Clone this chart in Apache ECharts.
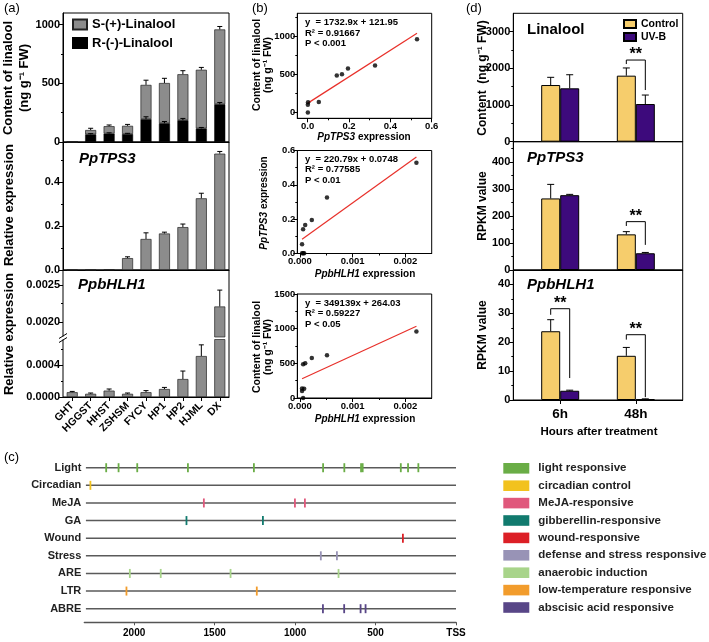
<!DOCTYPE html>
<html>
<head>
<meta charset="utf-8">
<script src="https://cdn.jsdelivr.net/npm/echarts@6.0.0/dist/echarts.min.js"></script>
<style>html,body{margin:0;padding:0;background:#fff;}#chart{width:709px;height:642px;}</style>
</head>
<body>
<div id="chart"></div>
<script>
// ================= DATA =================
// panel (a)
const cultivars = ['GHT','HGGST','HHST','ZSHSM','FYCY','HP1','HP2','HJML','DX'];
const rLinalool = [0, 65, 72, 68, 195, 160, 186, 116, 322];
const sLinalool = [0, 37, 63, 70, 292, 343, 392, 500, 638];
const totalLinErr = [0, 15, 10, 12, 40, 40, 30, 20, 25];
const rLinErr = [0, 6, 6, 6, 20, 15, 15, 8, 15];
const tps3Expr = [0.001, 0.001, 0.002, 0.054, 0.141, 0.166, 0.195, 0.326, 0.529];
const tps3Err = [0, 0, 0, 0.006, 0.028, 0.006, 0.014, 0.023, 0.010];
const bhlhExpr = [0.00006, 0.00004, 0.00008, 0.00004, 0.00006, 0.00010, 0.000225, 0.000513, 0.00221];
const bhlhErr = [0.00001, 0.00001, 0.00002, 0.00001, 0.00002, 0.00002, 0.00010, 0.00014, 0.00022];
// panel (b) regressions
const regSlope = [1732.9, 220.79, 349139];
const regIntercept = [121.95, 0.0748, 264.03];
const regText = [
  ['y  = 1732.9x + 121.95', 'R\u00b2 = 0.91667', 'P < 0.001'],
  ['y  = 220.79x + 0.0748', 'R\u00b2 = 0.77585', 'P < 0.01'],
  ['y  = 349139x + 264.03', 'R\u00b2 = 0.59227', 'P < 0.05']
];
// panel (d)
const timeLabels = ['6h', '48h'];
const linCtrl = [1545, 1800], linCtrlErr = [210, 210];
const linUV = [1455, 1027], linUVErr = [370, 245];
const tpsCtrl = [265, 132], tpsCtrlErr = [52, 10];
const tpsUV = [277, 62], tpsUVErr = [3, 3];
const bhCtrl = [23.8, 15.3], bhCtrlErr = [4.0, 2.9];
const bhUV = [3.2, 0.3], bhUVErr = [0.2, 0.1];
// significance brackets: [timeIndex, topY, leftLegEnd, rightLegEnd]
const linSig = [[1, 2226, 2117, 1408]];
const tpsSig = [[1, 179, 163, 93]];
const bhSig = [[0, 31.6, 29.5, 7.6], [1, 22.6, 20.9, 1.0]];
// panel (c)
const promoterRows = ['Light','Circadian','MeJA','GA','Wound','Stress','ARE','LTR','ABRE'];
const elementTypes = ['light responsive','circadian control','MeJA-responsive','gibberellin-responsive','wound-responsive','defense and stress responsive','anaerobic induction','low-temperature responsive','abscisic acid responsive'];
const elementColors = ['#6aad46','#f2c21e','#e0587c','#117a6e','#dc1f26','#9893b6','#a8d48a','#f29c2c','#584687'];
const lightPos = [2174, 2097, 1981, 1666, 1256, 826, 694, 590, 580, 343, 298, 234];
const circadianPos = [2272];
const mejaPos = [1567, 1001, 939];
const gaPos = [1675, 1200];
const woundPos = [330];
const stressPos = [840, 740];
const arePos = [2027, 1835, 1401, 730];
const ltrPos = [2048, 1238];
const abrePos = [827, 695, 593, 562];
const promoterStart = 2300, tssPos = 0;
const promoterTicks = [2000, 1500, 1000, 500, 0];

// ================= BUILD =================
const FF = "'Liberation Sans', Arial, Helvetica, sans-serif";
function merge(a, b) {
  const o = Object.assign({}, a);
  for (const k in b) {
    const v = b[k];
    if (v && typeof v === 'object' && !Array.isArray(v) && o[k] && typeof o[k] === 'object' && !Array.isArray(o[k])) o[k] = merge(o[k], v);
    else o[k] = v;
  }
  return o;
}
const grids = [], xAxes = [], yAxes = [], series = [], graphics = [];
const frame = {show: true, borderColor: '#000', borderWidth: 1, backgroundColor: 'rgba(0,0,0,0)'};
function addGrid(r, framed) { grids.push(Object.assign({left: r[0], top: r[1], width: r[2], height: r[3]}, framed ? frame : {show: false})); return grids.length - 1; }
function addX(o) { xAxes.push(o); return xAxes.length - 1; }
function addY(o) { yAxes.push(o); return yAxes.length - 1; }
const lbl = (size) => ({color: '#000', fontFamily: FF, fontWeight: 'bold', fontSize: size});

function valueAxis(dim, grid, min, max, ticks, fmt, size, extra) {
  return merge({gridIndex: grid, type: 'value', min, max, position: dim === 'x' ? 'bottom' : 'left',
    axisLine: {show: true, onZero: false, lineStyle: {color: '#000', width: 1}},
    axisTick: {show: true, inside: false, length: 4, customValues: ticks, lineStyle: {color: '#000', width: 1}},
    axisLabel: Object.assign({show: true, customValues: ticks, margin: 3, formatter: fmt}, lbl(size)),
    splitLine: {show: false}}, extra || {});
}
function minorAxis(dim, grid, min, max, ticks) {
  return {gridIndex: grid, type: 'value', min, max, position: dim === 'x' ? 'bottom' : 'left',
    axisLine: {show: false, onZero: false}, axisLabel: {show: false}, splitLine: {show: false},
    axisTick: {show: true, inside: false, length: 2, customValues: ticks, lineStyle: {color: '#000', width: 1}}};
}
function errRender(offsetPx, cap) {
  return function (params, api) {
    const x = api.value(0), y = api.value(1), e = api.value(2);
    if (!(e > 0)) return null;
    const p0 = api.coord([x, y]), p1 = api.coord([x, y + e]);
    const cx = p0[0] + offsetPx;
    return {type: 'group', children: [
      {type: 'line', shape: {x1: cx, y1: p0[1], x2: cx, y2: p1[1]}, style: {stroke: '#000', lineWidth: 1}},
      {type: 'line', shape: {x1: cx - cap / 2, y1: p1[1], x2: cx + cap / 2, y2: p1[1]}, style: {stroke: '#000', lineWidth: 1}}
    ]};
  };
}
function errSeries(xi, yi, data, offsetPx, cap) {
  return {type: 'custom', xAxisIndex: xi, yAxisIndex: yi, data, renderItem: errRender(offsetPx, cap), z: 5, silent: true, encode: {x: 0, y: 1}};
}
function txt(x, y, text, o) {
  o = o || {};
  const st = {text, x: 0, y: 0, align: o.align || 'left', verticalAlign: o.va || 'middle', fontFamily: FF,
    fontSize: o.size || 12, fontWeight: o.weight || 'bold', fontStyle: o.fstyle || 'normal', fill: o.color || '#000'};
  if (o.rich) st.rich = o.rich;
  return {type: 'text', x, y, rotation: o.rot || 0, style: st, silent: true};
}
const italicRich = (size, weight) => ({i: {fontStyle: 'italic', fontWeight: weight || 'bold', fontSize: size, fontFamily: FF, fill: '#000'}});

// ---------- panel (a) ----------
const gA1 = addGrid([63, 13, 166, 129], true);
const gA2 = addGrid([63, 142, 166, 128], true);
const gA3 = addGrid([63, 270, 166, 127], true);
const gA3u = addGrid([63, 270, 166, 67], false);
const gA3l = addGrid([63, 339.5, 166, 57.5], false);
function catAxis(grid, extra) {
  return merge({gridIndex: grid, type: 'category', data: cultivars, position: 'bottom',
    axisLine: {show: true, onZero: false, lineStyle: {color: '#000'}}, axisTick: {show: false}, axisLabel: {show: false}, splitLine: {show: false}}, extra || {});
}
const xA1 = addX(catAxis(gA1)), xA2 = addX(catAxis(gA2));
addX(catAxis(gA3, {show: false}));
const xA3u = addX(catAxis(gA3u, {show: false}));
const xA3l = addX(catAxis(gA3l, {axisTick: {show: true, alignWithLabel: true, length: 4, lineStyle: {color: '#000'}},
  axisLabel: Object.assign({show: true, rotate: 45, margin: 7, interval: 0}, lbl(10.5))}));
const yA1 = addY(valueAxis('y', gA1, 0, 1100, [0, 500, 1000], v => String(v), 11));
addY(minorAxis('y', gA1, 0, 1100, [250, 750]));
const yA2 = addY(valueAxis('y', gA2, 0, 0.582, [0, 0.2, 0.4], v => v.toFixed(1), 11));
addY(minorAxis('y', gA2, 0, 0.582, [0.1, 0.3, 0.5]));
addY({gridIndex: gA3, type: 'value', show: false, min: 0, max: 1});
const upMin = 0.0018, upMax = 0.0027, lowMax = 0.00072;
const yA3u = addY(valueAxis('y', gA3u, upMin, upMax, [0.002, 0.0025], v => v.toFixed(4), 11, {axisLine: {show: false}}));
addY(minorAxis('y', gA3u, upMin, upMax, [0.00225]));
const yA3l = addY(valueAxis('y', gA3l, 0, lowMax, [0, 0.0004], v => v.toFixed(4), 11, {axisLine: {show: false}}));
addY(minorAxis('y', gA3l, 0, lowMax, [0.0002, 0.0006]));

const grayBar = {color: '#8c8c8c', borderColor: '#222', borderWidth: 0.7};
series.push({type: 'bar', name: 'R-(-)-Linalool', xAxisIndex: xA1, yAxisIndex: yA1, stack: 'lin', data: rLinalool, barWidth: 11, itemStyle: {color: '#000', borderColor: '#000', borderWidth: 0.5}});
series.push({type: 'bar', name: 'S-(+)-Linalool', xAxisIndex: xA1, yAxisIndex: yA1, stack: 'lin', data: sLinalool, barWidth: 11, itemStyle: grayBar});
series.push(errSeries(xA1, yA1, cultivars.map((c, i) => [i, rLinalool[i] + sLinalool[i], totalLinErr[i]]), 0, 5));
series.push(errSeries(xA1, yA1, cultivars.map((c, i) => [i, rLinalool[i], rLinErr[i]]), 0, 5));
series.push({type: 'bar', name: 'PpTPS3 rel', xAxisIndex: xA2, yAxisIndex: yA2, data: tps3Expr, barWidth: 11, itemStyle: grayBar});
series.push(errSeries(xA2, yA2, cultivars.map((c, i) => [i, tps3Expr[i], tps3Err[i]]), 0, 5));
series.push({type: 'bar', name: 'bHLH up', xAxisIndex: xA3u, yAxisIndex: yA3u, data: bhlhExpr.map(v => v >= upMin ? v : '-'), barWidth: 11, itemStyle: grayBar, clip: true});
series.push(errSeries(xA3u, yA3u, cultivars.map((c, i) => [i, bhlhExpr[i], bhlhErr[i]]).filter(d => d[1] >= upMin), 0, 5));
series.push({type: 'bar', name: 'bHLH low', xAxisIndex: xA3l, yAxisIndex: yA3l, data: bhlhExpr, barWidth: 11, itemStyle: grayBar, clip: true});
series.push(errSeries(xA3l, yA3l, cultivars.map((c, i) => [i, bhlhExpr[i], bhlhErr[i]]).filter(d => d[1] + d[2] <= lowMax), 0, 5));

graphics.push(txt(4, 8, '(a)', {weight: 'normal', size: 13}));
graphics.push(txt(8, 78, 'Content of linalool', {rot: Math.PI / 2, align: 'center', size: 13}));
graphics.push(txt(24, 78, '(ng g\u207b\u00b9 FW)', {rot: Math.PI / 2, align: 'center', size: 13}));
graphics.push(txt(9, 205, 'Relative expression', {rot: Math.PI / 2, align: 'center', size: 13}));
graphics.push(txt(9, 334, 'Relative expression', {rot: Math.PI / 2, align: 'center', size: 13}));
graphics.push(txt(79, 159, 'PpTPS3', {size: 15, fstyle: 'italic'}));
graphics.push(txt(78, 285, 'PpbHLH1', {size: 15, fstyle: 'italic'}));
// axis break marks
graphics.push({type: 'rect', shape: {x: 58, y: 336.5, width: 10, height: 3}, style: {fill: '#fff'}, silent: true, z: 50});
graphics.push({type: 'line', shape: {x1: 59, y1: 338.5, x2: 67, y2: 333.5}, style: {stroke: '#000', lineWidth: 1}, silent: true, z: 51});
graphics.push({type: 'line', shape: {x1: 59, y1: 342.5, x2: 67, y2: 337.5}, style: {stroke: '#000', lineWidth: 1}, silent: true, z: 51});

// ---------- panel (b) ----------
const bX = [[-0.05, 0.6, [0, 0.2, 0.4, 0.6], [0.1, 0.3, 0.5], 1], [-0.00005, 0.0025, [0, 0.001, 0.002], [0.0005, 0.0015], 3], [-0.00005, 0.0025, [0, 0.001, 0.002], [0.0005, 0.0015], 3]];
const bY = [[-75, 1300, [0, 500, 1000], [250, 750, 1250], 0], [0, 0.6, [0, 0.2, 0.4, 0.6], [0.1, 0.3, 0.5], 1], [0, 1500, [0, 500, 1000, 1500], [250, 750, 1250], 0]];
const bRects = [[297.3, 13.3, 134.4, 105], [297.3, 150.5, 134.4, 103], [297.3, 294, 134.4, 104]];
const totalLin = cultivars.map((c, i) => rLinalool[i] + sLinalool[i]);
const bPoints = [
  cultivars.map((c, i) => [tps3Expr[i], totalLin[i]]),
  cultivars.map((c, i) => [bhlhExpr[i], tps3Expr[i]]),
  cultivars.map((c, i) => [bhlhExpr[i], totalLin[i]])
];
const bTextTop = [22.7, 159, 303.3];
for (let k = 0; k < 3; k++) {
  const g = addGrid(bRects[k], true);
  const bx = bX[k], by = bY[k];
  const xi = addX(valueAxis('x', g, bx[0], bx[1], bx[2], v => v.toFixed(bx[4]), 9.5, {axisLabel: {margin: 3}}));
  addX(minorAxis('x', g, bx[0], bx[1], bx[3]));
  const yi = addY(valueAxis('y', g, by[0], by[1], by[2], v => v.toFixed(by[4]), 9.5, {axisLabel: {margin: 2}}));
  addY(minorAxis('y', g, by[0], by[1], by[3]));
  const xs = bPoints[k].map(p => p[0]);
  const x0 = Math.min.apply(null, xs), x1 = Math.max.apply(null, xs);
  series.push({type: 'line', xAxisIndex: xi, yAxisIndex: yi, data: [[x0, regSlope[k] * x0 + regIntercept[k]], [x1, regSlope[k] * x1 + regIntercept[k]]],
    symbol: 'none', lineStyle: {color: '#e8302a', width: 1.2}, z: 3, silent: true});
  series.push({type: 'scatter', xAxisIndex: xi, yAxisIndex: yi, data: bPoints[k], symbolSize: 4.5, itemStyle: {color: '#000'}, z: 4, silent: true});
  regText[k].forEach((t, j) => graphics.push(txt(305, bTextTop[k] + j * 10.5, t, {size: 9.5})));
}
graphics.push(txt(252, 8, '(b)', {weight: 'normal', size: 13}));
graphics.push(txt(257, 65, 'Content of linalool', {rot: Math.PI / 2, align: 'center', size: 10.5}));
graphics.push(txt(268, 65, '(ng g\u207b\u00b9 FW)', {rot: Math.PI / 2, align: 'center', size: 10.5}));
graphics.push(txt(364, 137, '{i|PpTPS3} expression', {align: 'center', size: 10, rich: italicRich(10)}));
graphics.push(txt(264, 203, '{i|PpTPS3} expression', {rot: Math.PI / 2, align: 'center', size: 10, rich: italicRich(10)}));
graphics.push(txt(365, 274, '{i|PpbHLH1} expression', {align: 'center', size: 10, rich: italicRich(10)}));
graphics.push(txt(257, 347, 'Content of linalool', {rot: Math.PI / 2, align: 'center', size: 10.5}));
graphics.push(txt(268, 347, '(ng g\u207b\u00b9 FW)', {rot: Math.PI / 2, align: 'center', size: 10.5}));
graphics.push(txt(365, 419, '{i|PpbHLH1} expression', {align: 'center', size: 10, rich: italicRich(10)}));

// ---------- panel (d) ----------
const dRects = [[513.3, 13.3, 169.4, 128.4], [513.3, 141.7, 169.4, 128.3], [513.3, 270, 169.4, 130]];
const dY = [[0, 3500, [0, 1000, 2000, 3000], [500, 1500, 2500]], [0, 475, [0, 100, 200, 300, 400], [50, 150, 250, 350, 450]], [0, 45, [0, 10, 20, 30, 40], [5, 15, 25, 35]]];
const dCtrl = [linCtrl, tpsCtrl, bhCtrl], dCtrlE = [linCtrlErr, tpsCtrlErr, bhCtrlErr];
const dUV = [linUV, tpsUV, bhUV], dUVE = [linUVErr, tpsUVErr, bhUVErr];
const dSig = [linSig, tpsSig, bhSig];
const BW = 19;
for (let k = 0; k < 3; k++) {
  const g = addGrid(dRects[k], true);
  const xi = addX(k < 2
    ? {gridIndex: g, type: 'value', min: -0.62, max: 1.62, position: 'bottom', axisLine: {show: true, onZero: false, lineStyle: {color: '#000'}}, axisTick: {show: false}, axisLabel: {show: false}, splitLine: {show: false}}
    : valueAxis('x', g, -0.62, 1.62, [0, 1], v => timeLabels[Math.round(v)], 13.5, {axisLabel: {margin: 7}}));
  const yi = addY(valueAxis('y', g, dY[k][0], dY[k][1], dY[k][2], v => String(v), 11));
  addY(minorAxis('y', g, dY[k][0], dY[k][1], dY[k][3]));
  series.push({type: 'bar', name: 'Control', xAxisIndex: xi, yAxisIndex: yi, data: dCtrl[k].map((v, i) => [i, v]), barWidth: BW, barGap: '0%', itemStyle: {color: '#f6cd6c', borderColor: '#000', borderWidth: 1}});
  series.push({type: 'bar', name: 'UV-B', xAxisIndex: xi, yAxisIndex: yi, data: dUV[k].map((v, i) => [i, v]), barWidth: BW, barGap: '0%', itemStyle: {color: '#3d0a7c', borderColor: '#000', borderWidth: 1}});
  series.push(errSeries(xi, yi, dCtrl[k].map((v, i) => [i, v, dCtrlE[k][i]]), -BW / 2, 7));
  series.push(errSeries(xi, yi, dUV[k].map((v, i) => [i, v, dUVE[k][i]]), BW / 2, 7));
  series.push({type: 'custom', xAxisIndex: xi, yAxisIndex: yi, data: dSig[k], silent: true, z: 6, encode: {x: 0, y: 1},
    renderItem: (p, api) => {
      const t = api.coord([api.value(0), api.value(1)]);
      const l = api.coord([api.value(0), api.value(2)]);
      const r = api.coord([api.value(0), api.value(3)]);
      const xl = t[0] - BW / 2, xr = t[0] + BW / 2;
      return {type: 'group', children: [
        {type: 'polyline', shape: {points: [[xl, l[1]], [xl, t[1]], [xr, t[1]], [xr, r[1]]]}, style: {stroke: '#000', lineWidth: 1, fill: null}},
        {type: 'text', x: t[0], y: t[1] - 5, style: {text: '**', align: 'center', verticalAlign: 'middle', fontFamily: FF, fontWeight: 'bold', fontSize: 16, fill: '#000'}}
      ]};
    }});
}
graphics.push(txt(466, 8, '(d)', {weight: 'normal', size: 13}));
graphics.push(txt(527, 30, 'Linalool', {size: 15}));
graphics.push(txt(527, 158, 'PpTPS3', {size: 15, fstyle: 'italic'}));
graphics.push(txt(527, 285, 'PpbHLH1', {size: 15, fstyle: 'italic'}));
graphics.push(txt(483, 78, 'Content  (ng g\u207b\u00b9 FW)', {rot: Math.PI / 2, align: 'center', size: 12}));
graphics.push(txt(483, 206, 'RPKM value', {rot: Math.PI / 2, align: 'center', size: 12}));
graphics.push(txt(483, 335, 'RPKM value', {rot: Math.PI / 2, align: 'center', size: 12}));
graphics.push(txt(599, 432, 'Hours after treatment', {align: 'center', size: 11.5}));

// ---------- panel (c) ----------
const gC = addGrid([84.3, 458.9, 371.7, 158.6], false);
const xC = addX({gridIndex: gC, type: 'value', inverse: true, min: 0, max: 2310, position: 'bottom', offset: 4.8,
  axisLine: {show: true, onZero: false, lineStyle: {color: '#555', width: 1.3}},
  axisTick: {show: true, inside: false, length: 3, customValues: promoterTicks, lineStyle: {color: '#555'}},
  axisLabel: Object.assign({customValues: promoterTicks, formatter: v => (v === 0 ? 'TSS' : String(v)), margin: 6}, lbl(10)),
  splitLine: {show: false}});
const yC = addY({gridIndex: gC, type: 'category', data: promoterRows, inverse: true, axisLine: {show: false}, axisTick: {show: false},
  axisLabel: Object.assign({margin: 3}, lbl(11), {color: '#222'}), splitLine: {show: false}});
series.push({type: 'custom', xAxisIndex: xC, yAxisIndex: yC, data: promoterRows.map((r, i) => [promoterStart, i]), silent: true, z: 2, encode: {x: 0, y: 1},
  renderItem: (p, api) => {
    const a = api.coord([api.value(0), api.value(1)]), b = api.coord([tssPos, api.value(1)]);
    return {type: 'line', shape: {x1: a[0], y1: a[1], x2: b[0], y2: b[1]}, style: {stroke: '#5a5a5a', lineWidth: 1.5}};
  }});
const elementPositions = [lightPos, circadianPos, mejaPos, gaPos, woundPos, stressPos, arePos, ltrPos, abrePos];
elementTypes.forEach((name, k) => series.push({type: 'custom', name, xAxisIndex: xC, yAxisIndex: yC, itemStyle: {color: elementColors[k]},
  data: elementPositions[k].map(p => [p, k]), z: 3, silent: true, encode: {x: 0, y: 1},
  renderItem: (p, api) => {
    const c = api.coord([api.value(0), api.value(1)]);
    return {type: 'line', shape: {x1: c[0], y1: c[1] - 4.5, x2: c[0], y2: c[1] + 4.5}, style: {stroke: api.visual('color'), lineWidth: 1.8}};
  }}));
graphics.push(txt(4, 457, '(c)', {weight: 'normal', size: 13}));

const option = {
  animation: false,
  backgroundColor: '#fff',
  grid: grids, xAxis: xAxes, yAxis: yAxes, series,
  legend: [
    {left: 72, top: 18, orient: 'vertical', padding: 0, itemWidth: 14, itemHeight: 10, itemGap: 5.5, icon: 'rect', selectedMode: false,
      data: ['S-(+)-Linalool', 'R-(-)-Linalool'], textStyle: lbl(13)},
    {left: 623, top: 18.5, orient: 'vertical', padding: 0, itemWidth: 12, itemHeight: 8, itemGap: 2, icon: 'rect', selectedMode: false,
      data: ['Control', 'UV-B'], textStyle: lbl(10.5)},
    {left: 503.3, top: 462.3, orient: 'vertical', padding: 0, itemWidth: 26, itemHeight: 10.6, itemGap: 5.4, icon: 'rect', selectedMode: false,
      data: elementTypes, textStyle: Object.assign(lbl(11.5), {color: '#222', padding: [0, 0, 0, 4]})}
  ],
  graphic: {elements: graphics}
};
const chart = echarts.init(document.getElementById('chart'), null, {renderer: 'canvas'});
chart.setOption(option);
</script>
</body>
</html>
